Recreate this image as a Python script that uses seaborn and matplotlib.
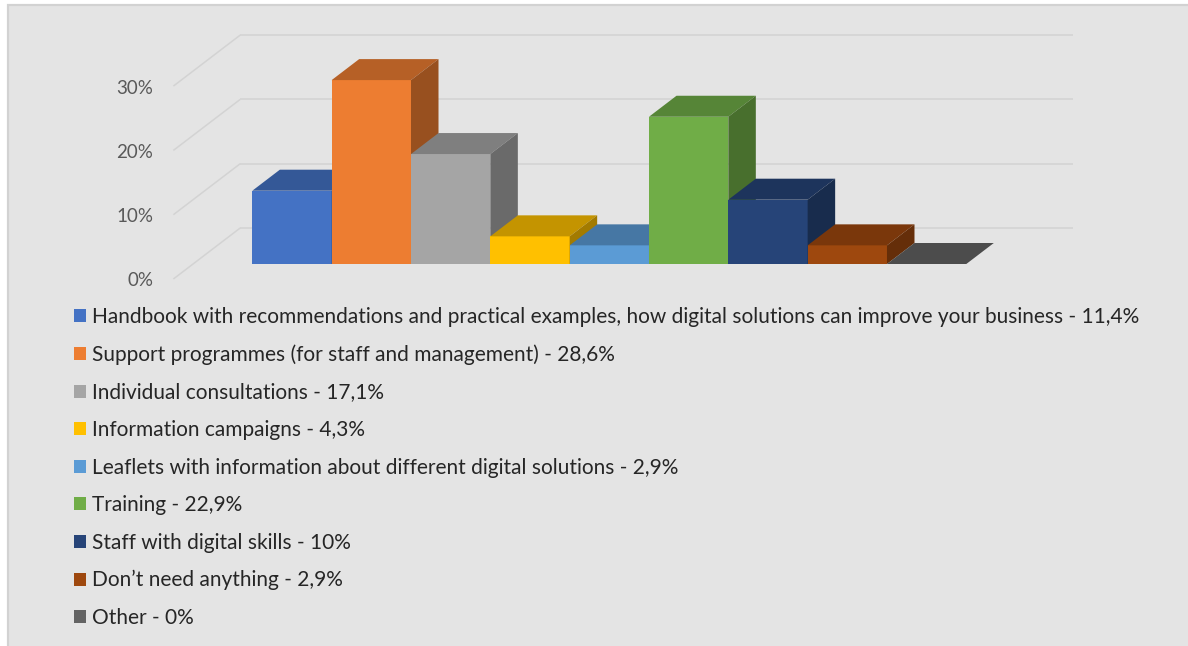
import matplotlib
matplotlib.use("Agg")
import numpy as np
import pandas as pd
import matplotlib.pyplot as plt
import matplotlib.colors as mcolors
from matplotlib.patches import Polygon, Rectangle
import seaborn as sns

# ---- data -------------------------------------------------------------
options = [
    "Handbook with recommendations and practical examples, how digital solutions can improve your business",
    "Support programmes (for staff and management)",
    "Individual consultations",
    "Information campaigns",
    "Leaflets with information about different digital solutions",
    "Training",
    "Staff with digital skills",
    "Don\u2019t need anything",
    "Other",
]
shares = [11.4, 28.6, 17.1, 4.3, 2.9, 22.9, 10.0, 2.9, 0.0]
axis_ticks = [0, 10, 20, 30]

palette = ["#4472C4", "#ED7D31", "#A5A5A5", "#FFC000", "#5B9BD5",
           "#70AD47", "#264478", "#9E480E", "#636363"]


def pct_label(v):
    s = f"{v:.1f}".rstrip("0").rstrip(".")
    return s.replace(".", ",") + "%"


labels = [f"{n} - {pct_label(v)}" for n, v in zip(options, shares)]
df = pd.DataFrame({"label": labels, "share": shares})

# ---- canvas / pixel mapping ------------------------------------------
W, H = 1188, 646
BAR_PX = 79.33      # width of one column in pixels
X0_PX = 292         # centre of first column
BASE_PX = 264       # baseline of the column fronts
PCT_PX = 6.43       # pixels per percentage point

SLANT = 1.31 * PCT_PX / BAR_PX   # x-shift per unit of depth rise
BAR_DEPTH = 21 / PCT_PX
FLOOR_FRONT = -15 / PCT_PX
BACK_WALL = 36 / PCT_PX
WALL_MARGIN = 59.3 / BAR_PX

sns.set_theme(style="white")
plt.rcParams["font.family"] = ["Lato", "DejaVu Sans"]

fig = plt.figure(figsize=(W / 100, H / 100), dpi=100)
fig.patch.set_facecolor("white")
fig.add_artist(Rectangle((8 / W, -0.05), 1.2, (H - 5) / H + 0.05,
                         transform=fig.transFigure, facecolor="#e4e4e4",
                         edgecolor="#d2d2d2", lw=1.6, zorder=0))

ax = fig.add_axes([0, 0, 1, 1])
ax.set_facecolor("none")

sns.barplot(data=df, x="label", y="share", hue="label", palette=palette,
            width=1.0, saturation=1, ax=ax, legend=True, linewidth=0)

ax.set_xlim((0 - X0_PX) / BAR_PX, (W - X0_PX) / BAR_PX)
ax.set_ylim((BASE_PX - H) / PCT_PX, BASE_PX / PCT_PX)
ax.axis("off")

n = len(shares)
x_left = -0.5 - WALL_MARGIN
x_right = n - 0.5 + WALL_MARGIN
grid_kw = dict(color="#d3d3d3", lw=1.1, zorder=1, solid_capstyle="butt")
for t in axis_ticks:
    ax.plot([x_left + SLANT * BACK_WALL, x_right + SLANT * BACK_WALL],
            [t + BACK_WALL, t + BACK_WALL], **grid_kw)
    ax.plot([x_left + SLANT * FLOOR_FRONT, x_left + SLANT * BACK_WALL],
            [t + FLOOR_FRONT, t + BACK_WALL], **grid_kw)
    ax.text(x_left + SLANT * FLOOR_FRONT - 20 / BAR_PX, t + FLOOR_FRONT - 0.3,
            f"{t}%", ha="right", va="center", color="#595959", fontsize=13.5)

# ---- give every column a top and a right side -------------------------
dx, dy = SLANT * BAR_DEPTH, BAR_DEPTH
bars = sorted(ax.patches, key=lambda r: r.get_x())
for i, rect in enumerate(bars):
    z = 3 + i
    rect.set_zorder(z)
    x0 = rect.get_x()
    x1 = x0 + rect.get_width()
    v = rect.get_height()
    rgb = np.array(mcolors.to_rgb(rect.get_facecolor()))
    top = Polygon([(x0, v), (x1, v), (x1 + dx, v + dy), (x0 + dx, v + dy)],
                  closed=True, facecolor=rgb * 0.77, edgecolor="none", zorder=z)
    side = Polygon([(x1, 0), (x1, v), (x1 + dx, v + dy), (x1 + dx, dy)],
                   closed=True, facecolor=rgb * 0.64, edgecolor="none", zorder=z)
    ax.add_patch(top)
    ax.add_patch(side)

sns.move_legend(ax, "upper left", bbox_to_anchor=(74 / W, 1 - 307 / H),
                frameon=False, title=None, fontsize=15, labelcolor="#262626",
                handlelength=0.58, handleheight=0.58, handletextpad=0.27,
                labelspacing=0.84, borderaxespad=0, borderpad=0)

fig.savefig("out.png", dpi=100, facecolor=fig.get_facecolor())
